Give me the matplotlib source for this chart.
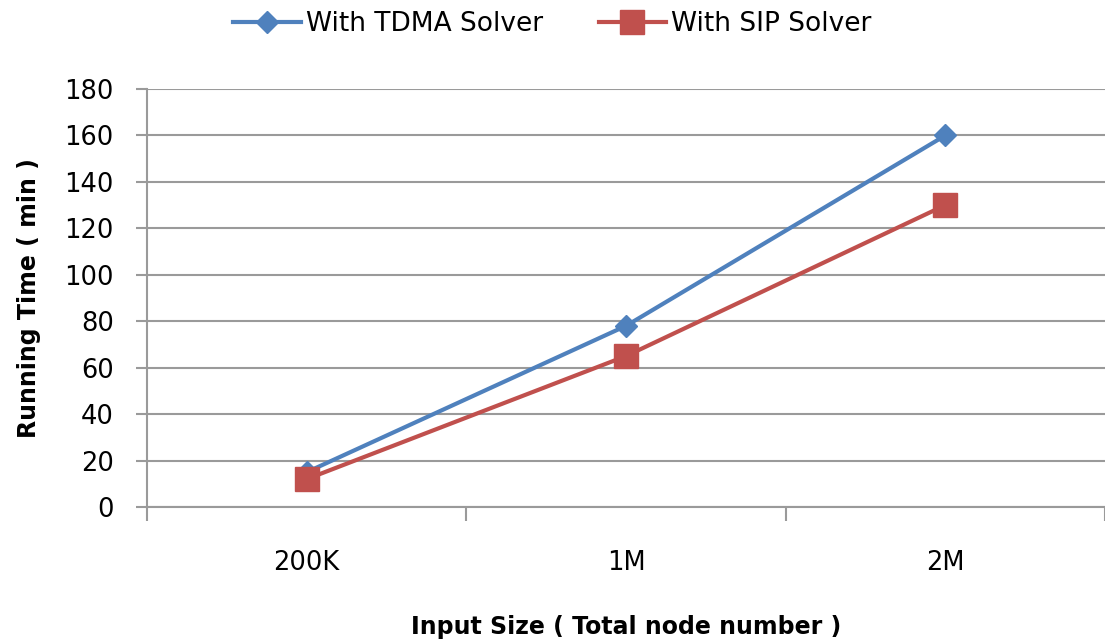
import matplotlib
matplotlib.use("Agg")
import matplotlib.pyplot as plt
from matplotlib.ticker import FixedLocator, NullFormatter

categories = ["200K", "1M", "2M"]
tdma_minutes = [15, 78, 160]
sip_minutes = [12, 65, 130]
y_ticks = [0, 20, 40, 60, 80, 100, 120, 140, 160, 180]

blue = "#4F81BD"
red = "#C0504D"
axis_grey = "#9A9A9A"

plt.rcParams["font.family"] = ["DejaVu Sans"]

fig = plt.figure(figsize=(11.05, 6.44), dpi=100)
ax = fig.add_axes([147 / 1105, 1 - 507 / 644, 958 / 1105, 418 / 644])

x = list(range(len(categories)))
ax.plot(x, tdma_minutes, color=blue, lw=3, marker="D", markersize=11,
        label="With TDMA Solver", zorder=3, clip_on=False)
ax.plot(x, sip_minutes, color=red, lw=3, marker="s", markersize=17,
        label="With SIP Solver", zorder=4, clip_on=False)

ax.set_xlim(-0.5, len(categories) - 0.5)
ax.set_ylim(0, 180)
ax.set_yticks(y_ticks)
ax.tick_params(axis="y", labelsize=18.5, length=8, width=1.5, color=axis_grey, pad=16)

# category labels sit between the boundary ticks
ax.xaxis.set_major_locator(FixedLocator([i - 0.5 for i in range(len(categories) + 1)]))
ax.xaxis.set_major_formatter(NullFormatter())
ax.xaxis.set_minor_locator(FixedLocator(x))
ax.set_xticklabels(categories, minor=True)
ax.tick_params(axis="x", which="major", length=10, width=1.5, color=axis_grey)
ax.tick_params(axis="x", which="minor", length=0, labelsize=18.5, pad=31)

ax.grid(axis="y", color=axis_grey, lw=1.5)
ax.set_axisbelow(True)
for side in ("top", "right"):
    ax.spines[side].set_visible(False)
for side in ("left", "bottom"):
    ax.spines[side].set_color(axis_grey)
    ax.spines[side].set_linewidth(1.5)

ax.set_ylabel("Running Time ( min )", fontsize=17, fontweight="bold", labelpad=17)
ax.set_xlabel("Input Size ( Total node number )", fontsize=17, fontweight="bold", labelpad=28)

fig.legend(loc="upper center", bbox_to_anchor=(0.5, 1.02), ncol=2, frameon=False,
           fontsize=19, handlelength=2.55, handletextpad=0.2, columnspacing=2.1)

fig.savefig("out.png", dpi=100)
